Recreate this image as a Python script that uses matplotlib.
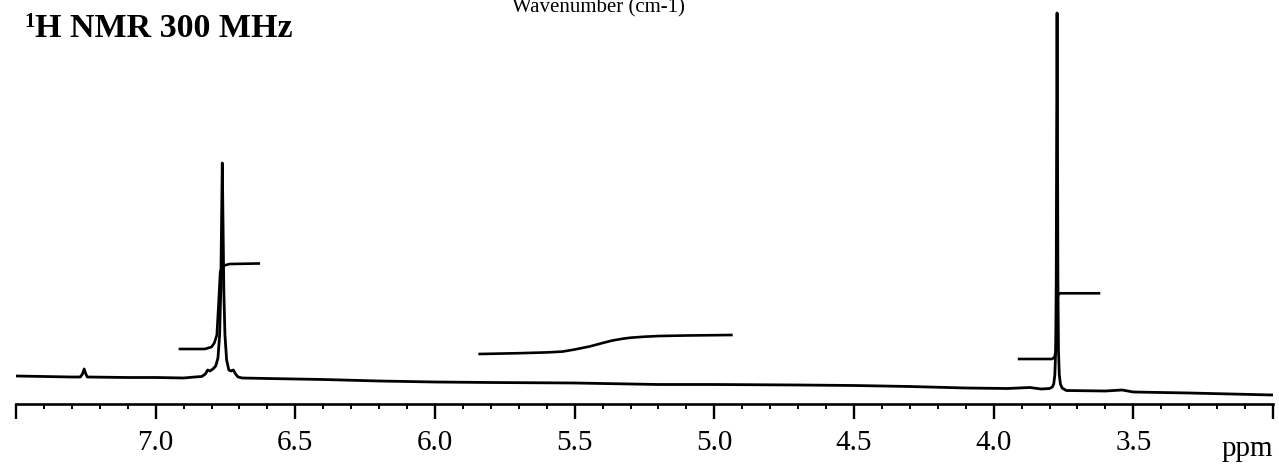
import matplotlib
matplotlib.use("Agg")
import matplotlib.pyplot as plt
from matplotlib.ticker import MultipleLocator

spec_ppm = [7.50, 7.40, 7.30, 7.27, 7.262, 7.256, 7.25, 7.245, 7.10, 7.00, 6.90,
            6.86, 6.835, 6.822, 6.814, 6.806, 6.795, 6.785, 6.777, 6.771, 6.767,
            6.764, 6.7615, 6.759, 6.756, 6.752, 6.746, 6.738, 6.730, 6.722, 6.714,
            6.705, 6.69, 6.60, 6.40, 6.20, 6.00, 5.80, 5.50, 5.20, 5.00, 4.70,
            4.50, 4.30, 4.10, 3.95, 3.87, 3.83, 3.80, 3.79, 3.785, 3.781, 3.778,
            3.776, 3.7745, 3.773, 3.7715, 3.770, 3.768, 3.765, 3.761, 3.755, 3.74,
            3.60, 3.54, 3.50, 3.30, 3.00]
spec_int = [4, 3.5, 3, 3, 6, 11, 6, 3, 2.5, 2.5, 2,
            3, 3.5, 6, 10, 9, 11, 14, 22, 45, 90,
            160, 217, 160, 90, 45, 20, 10, 9, 10, 6,
            3, 2, 1.5, 0.5, -1, -2, -2.5, -3, -4.5, -4.5, -5,
            -5.5, -6.5, -8, -8.5, -7.5, -9, -8.5, -7, -4, 5, 30,
            100, 250, 367, 250, 100, 30, 5, -4, -8, -10.5,
            -11, -10, -12, -13, -15]

# --- Curvas de integracao ---
int1_ppm = [6.913, 6.824, 6.800, 6.790, 6.781, 6.774, 6.769, 6.763, 6.755, 6.735, 6.631]
int1_val = [31, 31, 33, 37, 45, 80, 108, 112, 114.5, 116, 116.5]

int2_ppm = [5.840, 5.700, 5.600, 5.544, 5.500, 5.447, 5.400, 5.365, 5.330,
            5.300, 5.250, 5.197, 5.100, 4.939]
int2_val = [26, 26.8, 27.6, 28.4, 30.5, 33.5, 37, 39.5, 41.2,
            42.3, 43.3, 44, 44.5, 45]

int3_ppm = [3.909, 3.791, 3.782, 3.777, 3.773, 3.769, 3.764, 3.623]
int3_val = [21, 21, 23, 30, 80, 85, 86.7, 86.7]

major_ticks = [7.5, 7.0, 6.5, 6.0, 5.5, 5.0, 4.5, 4.0, 3.5, 3.0]
tick_labels = ["", "7.0", "6.5", "6.0", "5.5", "5.0", "4.5", "4.0", "3.5", ""]

serif = "Liberation Serif"

fig = plt.figure(figsize=(12.79, 4.73), dpi=100)
ax = fig.add_axes([16 / 1279, 69 / 473, 1257 / 1279, 404 / 473])

ax.plot(spec_ppm, spec_int, color="black", lw=2.0, solid_joinstyle="round")
ax.plot(int1_ppm, int1_val, color="black", lw=1.9)
ax.plot(int2_ppm, int2_val, color="black", lw=1.9)
ax.plot(int3_ppm, int3_val, color="black", lw=1.9)

ax.set_xlim(7.5, 3.0)
ax.set_ylim(-24, 380)

for s in ["top", "left", "right"]:
    ax.spines[s].set_visible(False)
ax.spines["bottom"].set_linewidth(1.9)
ax.set_yticks([])

ax.set_xticks(major_ticks)
ax.set_xticklabels(tick_labels, fontfamily=serif, fontsize=21)
ax.xaxis.set_minor_locator(MultipleLocator(0.1))
ax.tick_params(axis="x", which="major", direction="out", length=10.8, width=1.7, pad=8)
ax.tick_params(axis="x", which="minor", direction="out", length=3.8, width=1.4)

# --- Textos ---
fig.text(1222 / 1279, 1 - 456 / 473, "ppm", fontfamily=serif, fontsize=21,
         ha="left", va="baseline")
fig.text(35 / 1279, 1 - 37 / 473, "H NMR 300 MHz", fontfamily=serif,
         fontweight="bold", fontsize=24.5, ha="left", va="baseline")
fig.text(24 / 1279, 1 - 27 / 473, "1", fontfamily=serif,
         fontweight="bold", fontsize=15, ha="left", va="baseline")
# titulo do eixo cortado no topo da imagem original
fig.text(598 / 1279, 1 - 12 / 473, "Wavenumber (cm-1)", fontfamily=serif,
         fontsize=15, ha="center", va="baseline")

fig.savefig("out.png", dpi=100)
